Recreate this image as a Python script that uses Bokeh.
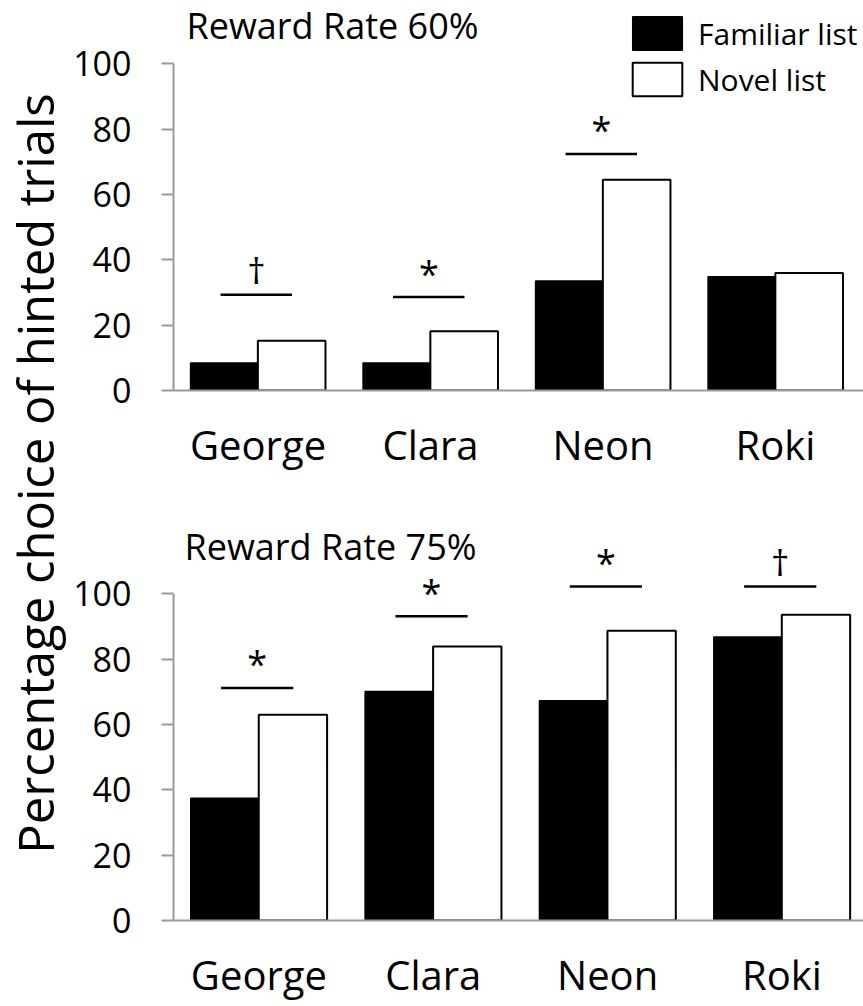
import numpy as np
from bokeh.plotting import figure
from bokeh.models import ColumnDataSource, Range1d, FixedTicker, Label
from bokeh.layouts import row, column
from bokeh.transform import dodge
from bokeh.core.properties import value
from bokeh.embed import file_html
from bokeh.resources import INLINE

categories = ["George", "Clara", "Neon", "Roki"]
familiar_60 = [8.4, 8.4, 33.5, 34.8]
novel_60 = [15.2, 18.1, 64.5, 36.0]
sig_60 = ["†", "*", "*", ""]
sig_line_60 = [29.3, 28.6, 72.4, np.nan]
familiar_75 = [37.4, 70.1, 67.3, 86.8]
novel_75 = [63.0, 83.9, 88.7, 93.6]
sig_75 = ["*", "*", "*", "†"]
sig_line_75 = [71.2, 93.1, 102.2, 102.2]
y_ticks = [0, 20, 40, 60, 80, 100]
series_names = ["Familiar list", "Novel list"]
y_title = "Percentage choice of hinted trials"

FONT = "Open Sans"
AX = "#9a9a9a"
X0 = 0.01


def panel(fam, nov, sig, sig_line, title, w, h, bl, bb, x_end, y_end, title_xy, legend=False):
    pos = list(np.arange(len(categories)) + 0.5)
    src = ColumnDataSource(dict(x=pos, fam=fam, nov=nov))
    p = figure(width=w, height=h, x_range=Range1d(X0, x_end), y_range=Range1d(0, y_end),
               min_border_left=bl, min_border_right=0, min_border_top=0, min_border_bottom=bb,
               output_backend="svg", toolbar_location=None, outline_line_color=None,
               background_fill_color="white", border_fill_color="white")
    p.grid.visible = False
    kw_f = dict(legend_label=series_names[0]) if legend else {}
    kw_n = dict(legend_label=series_names[1]) if legend else {}
    p.vbar(x=dodge("x", -0.195), top="fam", width=0.392, bottom=0, source=src,
           fill_color="black", line_color="black", line_width=1.5, **kw_f)
    p.vbar(x=dodge("x", 0.195), top="nov", width=0.392, bottom=0, source=src,
           fill_color="white", line_color="black", line_width=2, **kw_n)

    ok = [i for i in range(len(categories)) if sig[i]]
    ssrc = ColumnDataSource(dict(x=[pos[i] - 0.01 for i in ok],
                                 y=[sig_line[i] for i in ok],
                                 t=[sig[i] for i in ok]))
    p.segment(x0=dodge("x", -0.207), x1=dodge("x", 0.207), y0="y", y1="y", source=ssrc,
              line_color="black", line_width=2.5)
    p.text(x="x", y="y", text="t", source=ssrc, y_offset=-24, text_align="center",
           text_baseline="middle", text_font=value(FONT), text_font_size="36px",
           text_color="black")

    p.yaxis.ticker = FixedTicker(ticks=y_ticks)
    p.yaxis.bounds = (0, 100)
    p.xaxis.ticker = FixedTicker(ticks=pos)
    p.xaxis.major_label_overrides = {pos[i]: categories[i] for i in range(len(categories))}
    for ax in (p.xaxis[0], p.yaxis[0]):
        ax.axis_line_color = AX
        ax.axis_line_width = 2
        ax.major_tick_line_color = AX
        ax.major_tick_line_width = 2
        ax.minor_tick_line_color = None
        ax.major_tick_in = 0
        ax.major_label_text_font = FONT
        ax.major_label_text_color = "black"
    p.yaxis.major_tick_out = 12
    p.yaxis.major_label_standoff = 30
    p.yaxis.major_label_text_font_size = "34px"
    p.xaxis.major_tick_out = 0
    p.xaxis.major_label_standoff = 26
    p.xaxis.major_label_text_font_size = "40px"

    p.add_layout(Label(x=title_xy[0], y=title_xy[1], x_units="screen", y_units="screen",
                       text=title, text_font=FONT, text_font_size="36px",
                       text_baseline="alphabetic", text_color="black"))
    if legend:
        lg = p.legend[0]
        lg.location = (453, 290)
        lg.glyph_width = 62
        lg.glyph_height = 42
        lg.spacing = 4
        lg.padding = 0
        lg.margin = 0
        lg.label_standoff = 10
        lg.border_line_color = None
        lg.background_fill_alpha = 0
        lg.label_text_font = FONT
        lg.label_text_font_size = "30px"
        lg.label_text_color = "black"
    return p


top = panel(familiar_60, novel_60, sig_60, sig_line_60, "Reward Rate 60%",
            793, 500, 100, 110, X0 + 692 / 173.0, 390 / 3.267, (13, 365), legend=True)
bot = panel(familiar_75, novel_75, sig_75, sig_line_75, "Reward Rate 75%",
            793, 506, 102, 86, X0 + 691 / 174.6, 420 / 3.267, (11, 374))

lab = figure(width=70, height=1006, x_range=Range1d(0, 70), y_range=Range1d(0, 1006),
             min_border=0, x_axis_location=None, y_axis_location=None,
             outline_line_color=None, toolbar_location=None, output_backend="svg",
             border_fill_color="white")
lab.grid.visible = False
lab.add_layout(Label(x=34, y=1006 - 473, text=y_title, angle=np.pi / 2, text_align="center",
                     text_baseline="middle", text_font=FONT, text_font_size="49px",
                     text_color="black"))

layout = row(lab, column(top, bot))
open("out.html", "w").write(file_html(layout, INLINE))
